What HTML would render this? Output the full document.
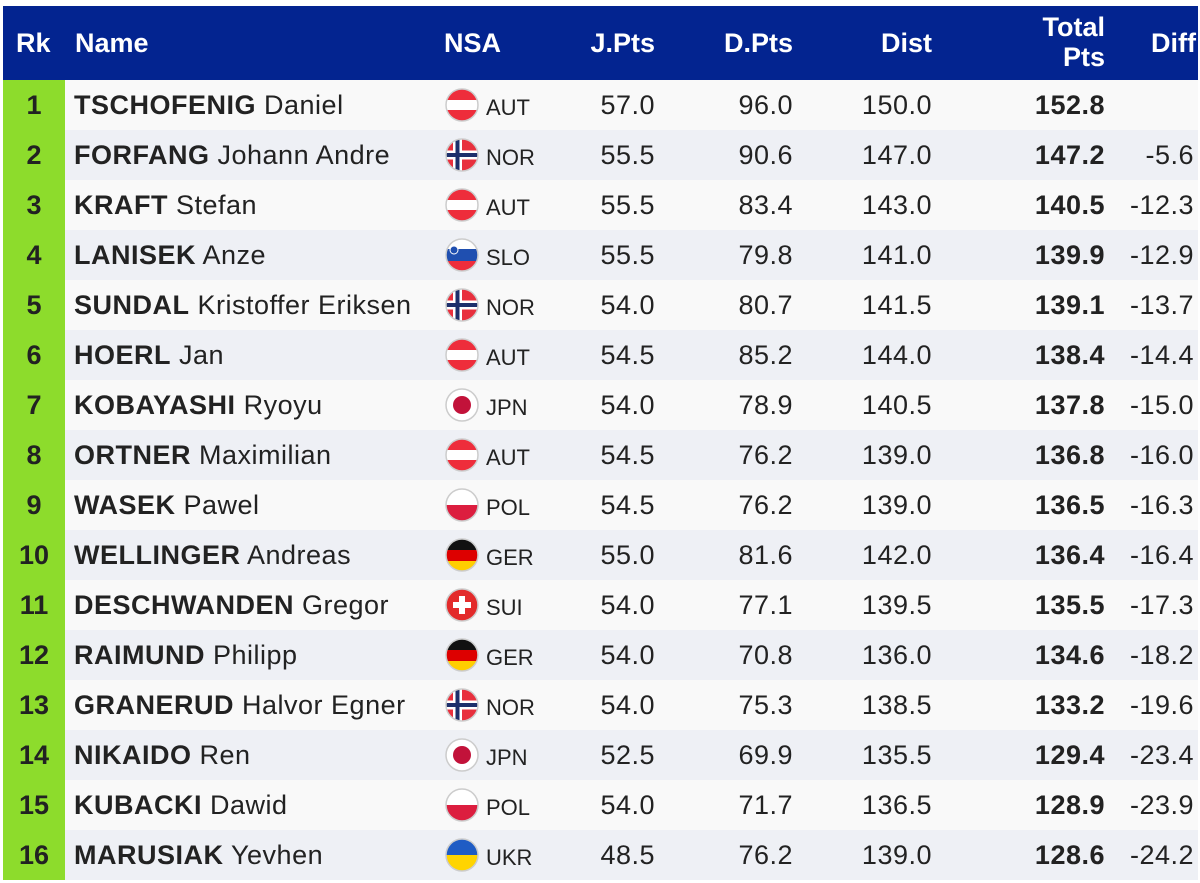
<!DOCTYPE html>
<html><head><meta charset="utf-8"><style>
body{margin:0;width:1200px;height:878px;background:#fff;overflow:hidden;font-family:"Liberation Sans",Arial,sans-serif;position:relative}
.hd{position:absolute;left:3px;top:6px;width:1195px;height:74px;background:#032490;color:#fff;font-weight:bold;font-size:27px}
.hd div{position:absolute;line-height:30px}
.row{position:absolute;left:3px;width:1195px;height:50px;font-size:27px;letter-spacing:0.5px;color:#222}
.row div{position:absolute;top:0;line-height:50px;white-space:nowrap}
.rk{left:0;width:62px;height:50px;background:#8ddc2c;text-align:center;font-weight:bold;letter-spacing:0}
.r{text-align:right}
.flag{position:absolute;left:442px;top:8px}
.nsa{font-size:22px;letter-spacing:0}
</style></head><body>
<div class="hd">
<div style="left:13px;top:22px">Rk</div>
<div style="left:72px;top:22px">Name</div>
<div style="left:441px;top:22px">NSA</div>
<div style="right:543px;top:22px">J.Pts</div>
<div style="right:405px;top:22px">D.Pts</div>
<div style="right:266px;top:22px">Dist</div>
<div style="right:93px;top:6px;text-align:right">Total<br>Pts</div>
<div style="right:2px;top:22px">Diff</div>
</div>
<div id="rows"></div>
<svg width="0" height="0" style="position:absolute"><defs><clipPath id="c"><circle cx="17" cy="17" r="16"/></clipPath></defs></svg>
<script>
const F={
AUT:'<rect width="34" height="34" fill="#ee2d3b"/><rect y="12" width="34" height="10" fill="#fff"/>',
NOR:'<rect width="34" height="34" fill="#e8303d"/><rect x="8" width="9" height="34" fill="#fff"/><rect y="12.5" width="34" height="9" fill="#fff"/><rect x="10.5" width="4" height="34" fill="#1d2f6b"/><rect y="15" width="34" height="4" fill="#1d2f6b"/>',
SLO:'<rect width="34" height="34" fill="#fff"/><rect y="11" width="34" height="12" fill="#1f4fb0"/><rect y="23" width="34" height="11" fill="#ee2d3b"/><circle cx="9" cy="12" r="4" fill="#1f4fb0" stroke="#fff"/>',
JPN:'<rect width="34" height="34" fill="#fff"/><circle cx="17" cy="17" r="9" fill="#c2123a"/>',
POL:'<rect width="34" height="34" fill="#fff"/><rect y="17" width="34" height="17" fill="#dc1e3f"/>',
GER:'<rect width="34" height="12" fill="#111"/><rect y="12" width="34" height="11" fill="#dd0000"/><rect y="23" width="34" height="11" fill="#ffce00"/>',
SUI:'<rect width="34" height="34" fill="#e32b2b"/><rect x="14" y="8" width="6" height="18" fill="#fff"/><rect x="8" y="14" width="18" height="6" fill="#fff"/>',
UKR:'<rect width="34" height="17" fill="#1f5cc4"/><rect y="17" width="34" height="17" fill="#ffd400"/>'};
const D=[
["TSCHOFENIG","Daniel","AUT","57.0","96.0","150.0","152.8",""],
["FORFANG","Johann Andre","NOR","55.5","90.6","147.0","147.2","-5.6"],
["KRAFT","Stefan","AUT","55.5","83.4","143.0","140.5","-12.3"],
["LANISEK","Anze","SLO","55.5","79.8","141.0","139.9","-12.9"],
["SUNDAL","Kristoffer Eriksen","NOR","54.0","80.7","141.5","139.1","-13.7"],
["HOERL","Jan","AUT","54.5","85.2","144.0","138.4","-14.4"],
["KOBAYASHI","Ryoyu","JPN","54.0","78.9","140.5","137.8","-15.0"],
["ORTNER","Maximilian","AUT","54.5","76.2","139.0","136.8","-16.0"],
["WASEK","Pawel","POL","54.5","76.2","139.0","136.5","-16.3"],
["WELLINGER","Andreas","GER","55.0","81.6","142.0","136.4","-16.4"],
["DESCHWANDEN","Gregor","SUI","54.0","77.1","139.5","135.5","-17.3"],
["RAIMUND","Philipp","GER","54.0","70.8","136.0","134.6","-18.2"],
["GRANERUD","Halvor Egner","NOR","54.0","75.3","138.5","133.2","-19.6"],
["NIKAIDO","Ren","JPN","52.5","69.9","135.5","129.4","-23.4"],
["KUBACKI","Dawid","POL","54.0","71.7","136.5","128.9","-23.9"],
["MARUSIAK","Yevhen","UKR","48.5","76.2","139.0","128.6","-24.2"]];
let h='';
D.forEach((d,i)=>{
h+=`<div class="row" style="top:${80+i*50}px;background:${i%2?'#eef0f5':'#f9f9f9'}">
<div class="rk">${i+1}</div>
<div style="left:71px"><b>${d[0]}</b> ${d[1]}</div>
<svg class="flag" width="36" height="36"><g clip-path="url(#c)">${F[d[2]]}</g><circle cx="17" cy="17" r="16" fill="none" stroke="#ccc" stroke-width="1.5"/></svg>
<div class="nsa" style="left:483px;top:3px">${d[2]}</div>
<div class="r" style="right:543px">${d[3]}</div>
<div class="r" style="right:405px">${d[4]}</div>
<div class="r" style="right:266px">${d[5]}</div>
<div class="r" style="right:93px;font-weight:bold">${d[6]}</div>
<div class="r" style="right:4px">${d[7]}</div></div>`;});
document.getElementById('rows').innerHTML=h;
</script>
</body></html>
